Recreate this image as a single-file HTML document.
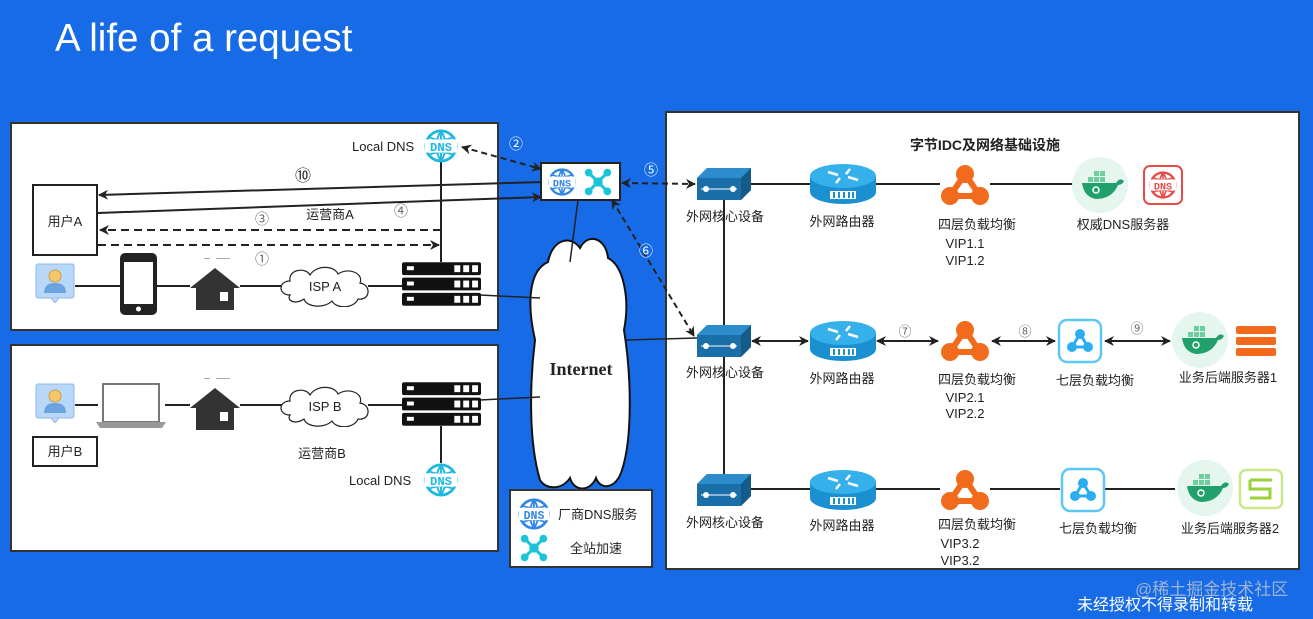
<!DOCTYPE html>
<html><head><meta charset="utf-8"><style>
html,body{margin:0;padding:0;background:#176be6;}
svg{display:block;font-family:"Liberation Sans","Noto Sans CJK SC",sans-serif;}
</style></head><body>
<svg width="1313" height="619" viewBox="0 0 1313 619" xmlns="http://www.w3.org/2000/svg">
<defs>
<marker id="ah" markerWidth="10" markerHeight="10" refX="9" refY="5" orient="auto-start-reverse" markerUnits="userSpaceOnUse"><path d="M0,0 L10,5 L0,10 L3,5 z" fill="#222"/></marker>
<symbol id="dns" viewBox="0 0 36 36">
 <circle cx="18" cy="18" r="16" fill="none" stroke="currentColor" stroke-width="3"/>
 <path d="M2,18 H34 M18,2 V34 M6,9 Q18,14 30,9 M6,27 Q18,22 30,27 M18,2 Q8,18 18,34 M18,2 Q28,18 18,34" fill="none" stroke="currentColor" stroke-width="2"/>
 <rect x="1" y="11" width="34" height="14" fill="#fff"/>
 <text x="18" y="23.5" font-size="13" font-weight="bold" text-anchor="middle" fill="currentColor" font-family="Liberation Mono,monospace">DNS</text>
</symbol>
<symbol id="cross" viewBox="0 0 36 36">
 <path d="M7,7 L29,29 M29,7 L7,29" stroke="#1cc4d8" stroke-width="4"/>
 <circle cx="18" cy="18" r="6" fill="#1cc4d8"/>
 <circle cx="6" cy="6" r="5" fill="#1cc4d8"/><circle cx="30" cy="6" r="5" fill="#1cc4d8"/>
 <circle cx="6" cy="30" r="5" fill="#1cc4d8"/><circle cx="30" cy="30" r="5" fill="#1cc4d8"/>
</symbol>
<symbol id="server" viewBox="0 0 80 44">
 <g fill="#111"><rect x="0" y="0" width="80" height="13" rx="2"/><rect x="0" y="15.5" width="80" height="13" rx="2"/><rect x="0" y="31" width="80" height="13" rx="2"/></g>
 <g fill="#fff"><rect x="5" y="4" width="7" height="4"/><rect x="53" y="3" width="6" height="7"/><rect x="62" y="3" width="6" height="7"/><rect x="71" y="3" width="6" height="7"/>
 <rect x="5" y="19.5" width="7" height="4"/><rect x="53" y="18.5" width="6" height="7"/><rect x="62" y="18.5" width="6" height="7"/><rect x="71" y="18.5" width="6" height="7"/>
 <rect x="5" y="35" width="7" height="4"/><rect x="53" y="34" width="6" height="7"/><rect x="62" y="34" width="6" height="7"/><rect x="71" y="34" width="6" height="7"/></g>
</symbol>
<symbol id="house" viewBox="0 0 50 52">
 <path d="M14,0 H20 M26,0 H40" stroke="#555" stroke-width="1"/>
 <path d="M25,10 L50,30 L44,30 L44,52 L6,52 L6,30 L0,30 Z" fill="#333"/>
 <rect x="30" y="34" width="8" height="9" fill="#fff"/>
</symbol>
<symbol id="cloud" viewBox="0 0 92 42">
 <path d="M12,30 C0,30 0,16 12,16 C10,4 28,2 32,10 C38,0 56,0 60,9 C70,2 86,8 82,18 C94,20 92,36 80,34 C76,44 58,44 54,36 C46,44 28,42 26,34 C18,40 8,36 12,30 Z" fill="#fff" stroke="#222" stroke-width="1.2"/>
</symbol>
<symbol id="person" viewBox="0 0 40 40">
 <rect x="1" y="1" width="38" height="34" rx="2" fill="#b9d8f7" stroke="#8fb9e8"/>
 <path d="M16,35 L20,40 L24,35" fill="#b9d8f7" stroke="#8fb9e8"/>
 <circle cx="20" cy="13" r="6" fill="#f5c66a" stroke="#c9a050"/>
 <path d="M9,30 Q9,20 20,20 Q31,20 31,30 Z" fill="#6aa3e0"/>
</symbol>
<symbol id="switch" viewBox="0 0 54 32">
 <path d="M0,10 L10,0 L54,0 L54,22 L44,32 L0,32 Z" fill="#1a6fa8"/>
 <path d="M0,10 L10,0 L54,0 L44,10 Z" fill="#2c8ccc"/>
 <path d="M44,10 L54,0 L54,22 L44,32 Z" fill="#145b8a"/>
 <path d="M4,21 H40" stroke="#fff" stroke-width="1"/>
 <circle cx="9" cy="21" r="3" fill="#fff"/><circle cx="36" cy="21" r="3" fill="#fff"/>
</symbol>
<symbol id="router" viewBox="0 0 66 40">
 <path d="M0,12 V28 A33,12 0 0 0 66,28 V12 Z" fill="#1a90d0"/>
 <ellipse cx="33" cy="12" rx="33" ry="12" fill="#35b0ea"/>
 <path d="M18,8 L28,11 M48,16 L38,13 M40,5 L36,10 M26,19 L30,14" stroke="#fff" stroke-width="2.5"/>
 <rect x="20" y="27" width="26" height="8" fill="#fff"/>
 <path d="M24,28 V34 M29,28 V34 M34,28 V34 M39,28 V34 M43,28 V34" stroke="#1a90d0" stroke-width="2"/>
</symbol>
<symbol id="lb4" viewBox="0 0 50 40">
 <path d="M25,9 L10,31 L40,31 Z" fill="none" stroke="#f26b1d" stroke-width="6"/>
 <circle cx="25" cy="9" r="9" fill="#f26b1d"/><circle cx="10" cy="31" r="9" fill="#f26b1d"/><circle cx="40" cy="31" r="9" fill="#f26b1d"/>
</symbol>
<symbol id="lb7" viewBox="0 0 46 46">
 <rect x="2" y="2" width="42" height="42" rx="8" fill="#fff" stroke="#5cc8f4" stroke-width="2.5"/>
 <path d="M23,16 L15,29 L31,29 Z" fill="none" stroke="#2aaef0" stroke-width="3"/>
 <circle cx="23" cy="16" r="5" fill="#2aaef0"/><circle cx="15" cy="29" r="5" fill="#2aaef0"/><circle cx="31" cy="29" r="5" fill="#2aaef0"/>
</symbol>
<symbol id="docker" viewBox="0 0 56 56">
 <circle cx="28" cy="28" r="28" fill="#e4f6ee"/>
 <path d="M10,26 H44 Q48,20 52,24 Q50,28 46,28 Q40,42 24,42 Q12,40 10,26 Z" fill="#22a06b"/>
 <g fill="#6ccf9f"><rect x="16" y="20" width="5" height="5"/><rect x="22" y="20" width="5" height="5"/><rect x="28" y="20" width="5" height="5"/><rect x="22" y="14" width="5" height="5"/><rect x="28" y="14" width="5" height="5"/></g>
 <circle cx="24" cy="33" r="3" fill="none" stroke="#fff" stroke-width="1.5"/>
</symbol>
</defs>

<text x="55" y="51" font-size="38.5" fill="#fff">A life of a request</text>

<rect x="11" y="123" width="487" height="207" fill="#fff" stroke="#333" stroke-width="2"/>
<rect x="11" y="345" width="487" height="206" fill="#fff" stroke="#333" stroke-width="2"/>
<rect x="666" y="112" width="633" height="457" fill="#fff" stroke="#333" stroke-width="2"/>

<path d="M540,480 C528,440 530,380 535,340 C526,300 530,270 548,262 C552,240 570,234 580,248 C588,232 606,238 608,258 C624,266 630,300 624,330 C632,380 632,440 622,470 C616,490 600,490 596,478 C590,492 574,492 570,478 C562,490 546,490 540,480 Z" fill="#fff" stroke="#111" stroke-width="2"/>
<text x="581" y="375" font-family="Liberation Serif,serif" font-weight="bold" font-size="18" text-anchor="middle" fill="#222">Internet</text>

<rect x="510" y="490" width="142" height="77" fill="#fff" stroke="#333" stroke-width="2"/>

<g stroke="#222" stroke-width="2" fill="none">
 <line x1="75" y1="286" x2="120" y2="286"/>
 <line x1="157" y1="286" x2="190" y2="286"/>
 <line x1="240" y1="286" x2="282" y2="286"/>
 <line x1="368" y1="286" x2="402" y2="286"/>
 <line x1="441" y1="160" x2="441" y2="262"/>
 <line x1="480" y1="295" x2="540" y2="298" stroke-width="1.5"/>
 <line x1="543" y1="182" x2="99" y2="195" marker-end="url(#ah)"/>
 <line x1="98" y1="213" x2="541" y2="197" marker-end="url(#ah)"/>
 <line x1="441" y1="230" x2="100" y2="230" stroke-dasharray="8,5" marker-end="url(#ah)"/>
 <line x1="98" y1="245" x2="439" y2="245" stroke-dasharray="8,5" marker-end="url(#ah)"/>
 <line x1="462" y1="147" x2="541" y2="169" stroke-dasharray="6,4" marker-start="url(#ah)" marker-end="url(#ah)"/>
 <line x1="578" y1="200" x2="570" y2="262" stroke-width="1.5"/>
 <line x1="75" y1="405" x2="98" y2="405"/>
 <line x1="165" y1="405" x2="190" y2="405"/>
 <line x1="240" y1="405" x2="282" y2="405"/>
 <line x1="368" y1="405" x2="402" y2="405"/>
 <line x1="441" y1="426" x2="441" y2="463"/>
 <line x1="480" y1="400" x2="540" y2="397" stroke-width="1.5"/>
 <line x1="622" y1="183" x2="695" y2="184" stroke-dasharray="6,4" marker-start="url(#ah)" marker-end="url(#ah)"/>
 <line x1="612" y1="200" x2="694" y2="336" stroke-dasharray="6,4" marker-start="url(#ah)" marker-end="url(#ah)"/>
 <line x1="625" y1="340" x2="697" y2="338" stroke-width="1.5"/>
 <line x1="724" y1="198" x2="724" y2="478"/>
 <line x1="750" y1="184" x2="810" y2="184"/>
 <line x1="875" y1="184" x2="940" y2="184"/>
 <line x1="990" y1="184" x2="1075" y2="184"/>
 <line x1="752" y1="341" x2="808" y2="341" marker-start="url(#ah)" marker-end="url(#ah)"/>
 <line x1="877" y1="341" x2="938" y2="341" marker-start="url(#ah)" marker-end="url(#ah)"/>
 <line x1="992" y1="341" x2="1055" y2="341" marker-start="url(#ah)" marker-end="url(#ah)"/>
 <line x1="1105" y1="341" x2="1170" y2="341" marker-start="url(#ah)" marker-end="url(#ah)"/>
 <line x1="750" y1="489" x2="810" y2="489"/>
 <line x1="875" y1="489" x2="940" y2="489"/>
 <line x1="990" y1="489" x2="1060" y2="489"/>
 <line x1="1105" y1="489" x2="1175" y2="489"/>
</g>

<rect x="541" y="163" width="79" height="37" fill="#fff" stroke="#222" stroke-width="2"/>
<use href="#dns" x="548" y="168" width="28" height="28" style="color:#2f86e6"/>
<use href="#cross" x="584" y="168" width="28" height="28"/>

<rect x="33" y="185" width="64" height="70" fill="#fff" stroke="#222" stroke-width="2"/>
<text x="65" y="226" font-size="13" text-anchor="middle" fill="#222">用户A</text>
<use href="#person" x="35" y="263" width="40" height="40"/>
<rect x="120" y="253" width="37" height="62" rx="5" fill="#222"/>
<rect x="124" y="262" width="29" height="42" fill="#fff"/>
<circle cx="138.5" cy="309" r="2.5" fill="#fff"/>
<use href="#house" x="190" y="258" width="50" height="52"/>
<use href="#cloud" x="278" y="265" width="92" height="42"/>
<text x="325" y="291" font-size="13" text-anchor="middle" fill="#222">ISP A</text>
<use href="#server" x="402" y="262" width="79" height="44"/>
<text x="352" y="151" font-size="13" fill="#222">Local DNS</text>
<use href="#dns" x="424" y="129" width="34" height="34" style="color:#1cb8e0"/>
<text x="303" y="181" font-size="16" text-anchor="middle" fill="#222">⑩</text>
<text x="330" y="219" font-size="13" text-anchor="middle" fill="#222">运营商A</text>
<text x="401" y="216" font-size="14" text-anchor="middle" fill="#666">④</text>
<text x="262" y="224" font-size="14" text-anchor="middle" fill="#666">③</text>
<text x="262" y="264" font-size="14" text-anchor="middle" fill="#666">①</text>
<text x="516" y="149" font-size="14" text-anchor="middle" fill="#fff">②</text>
<text x="651" y="175" font-size="14" text-anchor="middle" fill="#fff">⑤</text>
<text x="646" y="256" font-size="14" text-anchor="middle" fill="#fff">⑥</text>

<use href="#person" x="35" y="383" width="40" height="40"/>
<rect x="33" y="437" width="64" height="29" fill="#fff" stroke="#222" stroke-width="2"/>
<text x="65" y="456" font-size="13" text-anchor="middle" fill="#222">用户B</text>
<rect x="103" y="384" width="56" height="38" fill="#fff" stroke="#777" stroke-width="2"/>
<path d="M96,422 H166 L162,428 H100 Z" fill="#999"/>
<use href="#house" x="190" y="378" width="50" height="52"/>
<use href="#cloud" x="278" y="385" width="92" height="42"/>
<text x="325" y="411" font-size="13" text-anchor="middle" fill="#222">ISP B</text>
<use href="#server" x="402" y="382" width="79" height="44"/>
<text x="322" y="458" font-size="13" text-anchor="middle" fill="#222">运营商B</text>
<text x="349" y="485" font-size="13" fill="#222">Local DNS</text>
<use href="#dns" x="424" y="463" width="34" height="34" style="color:#1cb8e0"/>

<use href="#dns" x="518" y="498" width="32" height="32" style="color:#2f86e6"/>
<text x="558" y="519" font-size="13" fill="#222">厂商DNS服务</text>
<use href="#cross" x="520" y="534" width="28" height="28"/>
<text x="570" y="553" font-size="13" fill="#222">全站加速</text>

<text x="985" y="150" font-size="14" font-weight="bold" text-anchor="middle" fill="#222">字节IDC及网络基础设施</text>
<g font-size="13" fill="#222" text-anchor="middle">
<use href="#switch" x="697" y="168" width="54" height="32"/>
<use href="#router" x="810" y="164" width="66" height="40"/>
<use href="#lb4" x="940" y="165" width="50" height="40"/>
<use href="#docker" x="1072" y="157" width="56" height="56"/>
<rect x="1144" y="166" width="38" height="38" rx="6" fill="#fff" stroke="#e84a4a" stroke-width="2"/>
<use href="#dns" x="1149" y="171" width="28" height="28" style="color:#e84a4a"/>
<text x="725" y="221">外网核心设备</text>
<text x="842" y="226">外网路由器</text>
<text x="977" y="229">四层负载均衡</text>
<text x="965" y="248">VIP1.1</text>
<text x="965" y="265">VIP1.2</text>
<text x="1123" y="229">权威DNS服务器</text>
<use href="#switch" x="697" y="325" width="54" height="32"/>
<use href="#router" x="810" y="321" width="66" height="40"/>
<use href="#lb4" x="940" y="321" width="50" height="40"/>
<use href="#lb7" x="1057" y="318" width="46" height="46"/>
<use href="#docker" x="1172" y="312" width="56" height="56"/>
<g fill="#f26b1d"><rect x="1236" y="326" width="40" height="8" rx="2"/><rect x="1236" y="337" width="40" height="8" rx="2"/><rect x="1236" y="348" width="40" height="8" rx="2"/></g>
<text x="725" y="377">外网核心设备</text>
<text x="842" y="383">外网路由器</text>
<text x="977" y="384">四层负载均衡</text>
<text x="965" y="402">VIP2.1</text>
<text x="965" y="418">VIP2.2</text>
<text x="1095" y="385">七层负载均衡</text>
<text x="1228" y="382">业务后端服务器1</text>
<text x="905" y="336" fill="#666">⑦</text>
<text x="1025" y="336" fill="#666">⑧</text>
<text x="1137" y="333" fill="#666">⑨</text>
<use href="#switch" x="697" y="474" width="54" height="32"/>
<use href="#router" x="810" y="470" width="66" height="40"/>
<use href="#lb4" x="940" y="470" width="50" height="40"/>
<use href="#lb7" x="1060" y="467" width="46" height="46"/>
<use href="#docker" x="1177" y="460" width="56" height="56"/>
<rect x="1240" y="470" width="42" height="38" rx="6" fill="#fff" stroke="#c9e88a" stroke-width="2.5"/>
<path d="M1250,480 H1272 M1250,480 V489 H1270 V498 H1250" fill="none" stroke="#9bd13a" stroke-width="3"/>
<text x="725" y="527">外网核心设备</text>
<text x="842" y="530">外网路由器</text>
<text x="977" y="529">四层负载均衡</text>
<text x="960" y="548">VIP3.2</text>
<text x="960" y="565">VIP3.2</text>
<text x="1098" y="533">七层负载均衡</text>
<text x="1230" y="533">业务后端服务器2</text>
</g>

<text x="1135" y="595" font-size="17" fill="#9fb3d6">@稀土掘金技术社区</text>
<text x="1077" y="610" font-size="16" fill="#fff">未经授权不得录制和转载</text>
</svg>
</body></html>
